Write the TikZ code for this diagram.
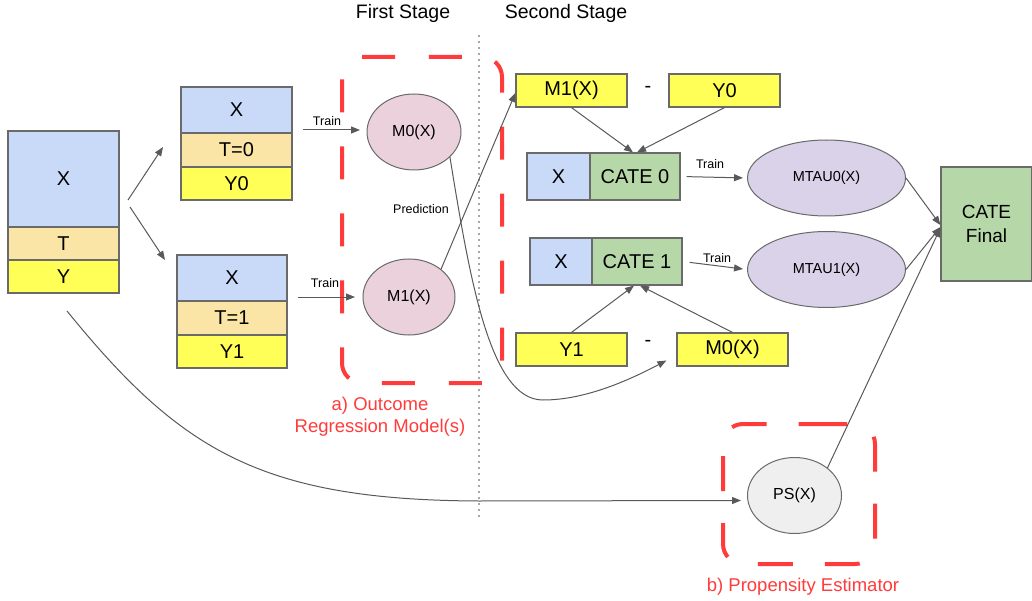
\documentclass[tikz,border=0pt]{standalone}
\usepackage{fontspec}
\setmainfont{Liberation Sans}
\usetikzlibrary{arrows.meta,calc,shapes.geometric}
\definecolor{cblue}{HTML}{C9DAF8}
\definecolor{cbeige}{HTML}{FBE5A6}
\definecolor{cyellow}{HTML}{FFFF57}
\definecolor{cgreen}{HTML}{B6D7A8}
\definecolor{cpink}{HTML}{EAD1DC}
\definecolor{cpurple}{HTML}{D9D2E9}
\definecolor{cgrayfill}{HTML}{EFEFEF}
\definecolor{cborder}{HTML}{6A6A6A}
\definecolor{carrow}{HTML}{595959}
\definecolor{cred}{HTML}{FF3B3B}
\begin{document}
\begin{tikzpicture}[x=1pt,y=-1pt,
  cell/.style={draw=cborder,line width=1.2pt,inner sep=0pt,text=black,font=\fontsize{20}{24}\selectfont},
  ell/.style={ellipse,draw=cborder,line width=1pt,inner sep=0pt,text=black,font=\fontsize{16}{19}\selectfont},
  arr/.style={draw=carrow,line width=1pt,-{Triangle[length=9pt,width=7pt]}},
  small/.style={inner sep=0pt,font=\fontsize{12.5}{15}\selectfont,text=black},
  header/.style={inner sep=0pt,font=\fontsize{19.5}{23}\selectfont,text=black},
  redlabel/.style={inner sep=0pt,align=center,font=\fontsize{18.5}{22}\selectfont,text=cred},
  redbox/.style={draw=cred,line width=4pt,rounded corners=20pt},
  dotline/.style={draw=black!70,line width=1.6pt,line cap=round,dash pattern=on 0pt off 6pt}
]
\useasboundingbox (0,0) rectangle (1032,601);

% headers
\node[header] (h1) at (403,13) {First Stage};
\node[header] (h2) at (566,13) {Second Stage};

% dotted separator
\coordinate (dtop) at (479,36);
\coordinate (dbot) at (479,520);
\draw[dotline] (dtop) -- (dbot);

% red dashed groups
\draw[redbox,dash pattern=on 33pt off 33.98pt] (362,57) -- (502,57) -- (502,383) -- (342,383) -- (342,57) -- (372,57);
\draw[redbox,dash pattern=on 35pt off 32pt] (812,424) -- (875,424) -- (875,564) -- (723,564) -- (723,424) -- (812,424);
\node[redlabel] (lbla) at (380,417) {a) Outcome\\Regression Model(s)};
\node[redlabel] (lblb) at (803,587) {b) Propensity Estimator};

% big data box
\node[cell,fill=cblue,minimum width=111pt,minimum height=96pt] (bx) at (63.5,179) {X};
\node[cell,fill=cbeige,minimum width=111pt,minimum height=33pt] (bt) at (63.5,243.5) {T};
\node[cell,fill=cyellow,minimum width=111pt,minimum height=33pt] (by) at (63.5,276.5) {Y};

% T=0 box
\node[cell,fill=cblue,minimum width=111pt,minimum height=46pt] (t0x) at (236.5,110) {X};
\node[cell,fill=cbeige,minimum width=111pt,minimum height=34pt] (t0t) at (236.5,150) {T=0};
\node[cell,fill=cyellow,minimum width=111pt,minimum height=33pt] (t0y) at (236.5,183.5) {Y0};

% T=1 box
\node[cell,fill=cblue,minimum width=110pt,minimum height=46pt] (t1x) at (232,278) {X};
\node[cell,fill=cbeige,minimum width=110pt,minimum height=34pt] (t1t) at (232,318) {T=1};
\node[cell,fill=cyellow,minimum width=110pt,minimum height=33pt] (t1y) at (232,351.5) {Y1};

% split arrows
\coordinate (s1a) at (128,200); \coordinate (s1b) at (163,147);
\coordinate (s2a) at (130,207); \coordinate (s2b) at (165,260);
\draw[arr] (s1a) -- (s1b);
\draw[arr] (s2a) -- (s2b);

% first stage models
\node[ell,fill=cpink,minimum width=94pt,minimum height=76pt] (m0) at (414,132) {M0(X)};
\node[ell,fill=cpink,minimum width=92pt,minimum height=76pt] (m1) at (409,297) {M1(X)};

\coordinate (tr0a) at (303,130); \coordinate (tr0b) at (360,130);
\coordinate (tr1a) at (298,297); \coordinate (tr1b) at (355,297);
\draw[arr] (tr0a) -- (tr0b);
\draw[arr] (tr1a) -- (tr1b);
\node[small] (trl0) at (327,121) {Train};
\node[small] (trl1) at (325,283) {Train};
\node[small] (pred) at (421,209) {Prediction};

% second stage boxes
\node[cell,fill=cyellow,minimum width=111pt,minimum height=33pt] (m1b) at (571.5,90.5) {M1(X)};
\node[cell,draw=none,fill=none] (minus1) at (648,89) {-};
\node[cell,fill=cyellow,minimum width=111pt,minimum height=33pt] (y0b) at (724.5,90.5) {Y0};

\node[cell,fill=cblue,minimum width=63pt,minimum height=47pt] (c0x) at (558.5,176.5) {X};
\node[cell,fill=cgreen,minimum width=90pt,minimum height=47pt] (cate0) at (635,176.5) {CATE 0};

\node[cell,fill=cblue,minimum width=62pt,minimum height=47pt] (c1x) at (561,261.5) {X};
\node[cell,fill=cgreen,minimum width=90pt,minimum height=47pt] (cate1) at (637,261.5) {CATE 1};

\node[cell,fill=cyellow,minimum width=111pt,minimum height=33pt] (y1b) at (571.5,349.5) {Y1};
\node[cell,draw=none,fill=none] (minus2) at (648,343) {-};
\node[cell,fill=cyellow,minimum width=111pt,minimum height=33pt] (m0b) at (732.5,349.5) {M0(X)};

\node[ell,fill=cpurple,minimum width=158pt,minimum height=76pt,font=\fontsize{14.5}{17}\selectfont] (mt0) at (826.5,178) {MTAU0(X)};
\node[ell,fill=cpurple,minimum width=158pt,minimum height=76pt,font=\fontsize{14.5}{17}\selectfont] (mt1) at (826.5,269.5) {MTAU1(X)};

\node[cell,fill=cgreen,minimum width=91pt,minimum height=114pt,align=center,font=\fontsize{19}{24}\selectfont] (final) at (986.5,224) {CATE\\Final};

\node[ell,fill=cgrayfill,minimum width=94pt,minimum height=76pt] (ps) at (794.5,495.5) {PS(X)};

% connectors second stage
\draw[arr] (m1b.south) -- ([xshift=-2pt]cate0.north);
\draw[arr] (y0b.south) -- ([xshift=2pt]cate0.north);
\draw[arr] (y1b.north) -- ([xshift=-3pt]cate1.south);
\draw[arr] (m0b.north) -- ([xshift=3pt]cate1.south);

\draw[arr,shorten <=6pt,shorten >=4pt] (cate0.east) -- (mt0.west);
\draw[arr,shorten <=7pt,shorten >=4pt] (cate1.east) -- (mt1.west);
\node[small] (trl2) at (710,164) {Train};
\node[small] (trl3) at (717,258) {Train};

\draw[arr] (mt0.east) -- ([yshift=-1pt]final.west);
\draw[arr] (mt1.east) -- ([yshift=-3pt]final.west);
\draw[arr] (ps.40) -- ([yshift=-4pt]final.west);

% prediction links
\draw[arr] (m1.41) -- ($(m1b.west)+(0,2.5)$);
\draw[arr] (m0.-35) .. controls (470,280) and (490,400) .. (543,400)
  .. controls (580,400) and (620,385) .. ($(m0b.west)+(-10,11)$);

% propensity link
\coordinate (yc) at (67,311);
\coordinate (yc2) at (479,501);
\draw[arr] (yc) .. controls (180,450) and (260,500) .. (yc2) -- ($(ps.west)+(-6,5)$);
\end{tikzpicture}
\end{document}
